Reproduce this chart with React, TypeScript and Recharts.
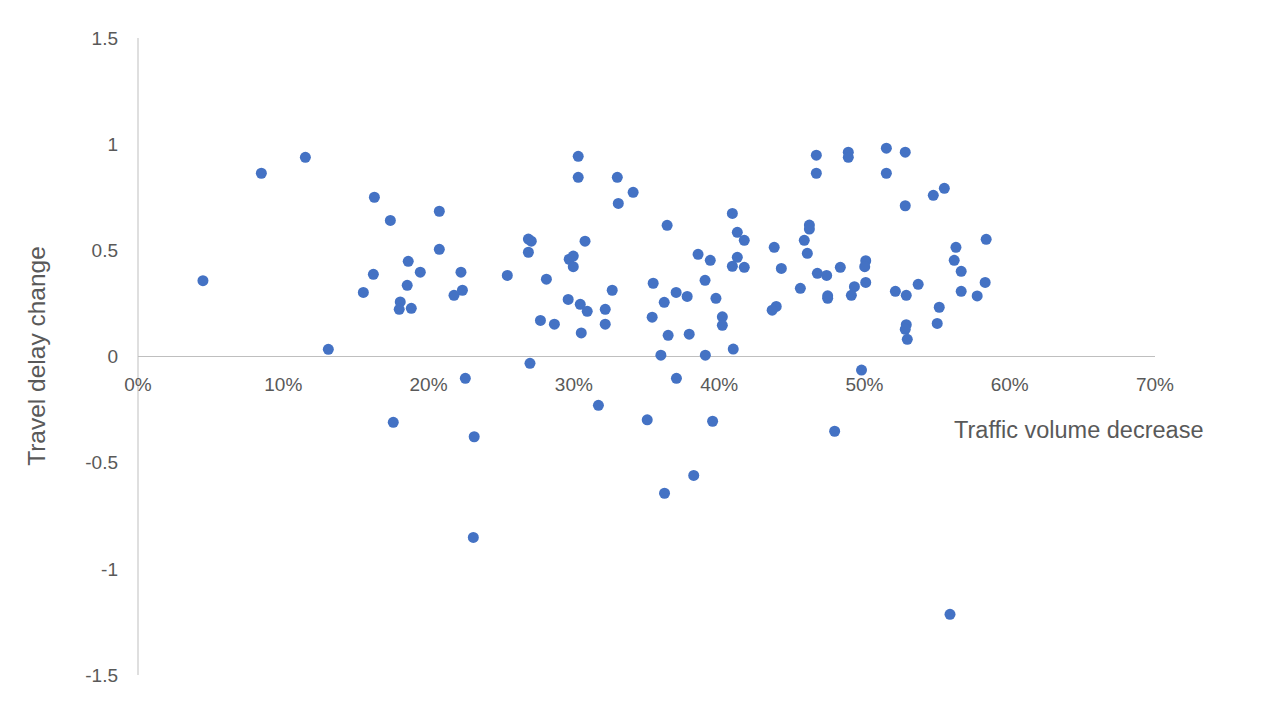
import React from "react";
import {
  ScatterChart,
  Scatter,
  XAxis,
  YAxis,
  ReferenceLine,
  ReferenceDot,
} from "recharts";

const xValues: number[] = [
  0.0447, 0.0849, 0.1152, 0.131, 0.1627, 0.1737, 0.2074, 0.2074, 0.186, 0.1943,
  0.162, 0.1853, 0.1551, 0.1805, 0.1798, 0.1881, 0.2223, 0.2233, 0.2175, 0.2542,
  0.2687, 0.2707, 0.2687, 0.2811, 0.277, 0.2866, 0.2698, 0.303, 0.303, 0.3299,
  0.3306, 0.3408, 0.3077, 0.2968, 0.2996, 0.2996, 0.2961, 0.3044, 0.3092, 0.3051,
  0.3264, 0.3216, 0.3216, 0.3642, 0.3546, 0.3622, 0.3704, 0.378, 0.3539, 0.3649,
  0.3794, 0.3599, 0.3855, 0.3939, 0.3903, 0.3978, 0.4022, 0.4022, 0.3905, 0.4097,
  0.4091, 0.4125, 0.4173, 0.4125, 0.4091, 0.4173, 0.4379, 0.4428, 0.4393, 0.4365,
  0.4669, 0.4669, 0.4889, 0.4889, 0.5151, 0.5151, 0.5281, 0.5281, 0.5474, 0.555,
  0.4621, 0.4621, 0.4586, 0.4607, 0.4676, 0.474, 0.4559, 0.4747, 0.4747, 0.4834,
  0.5009, 0.5002, 0.5009, 0.4931, 0.491, 0.5213, 0.5288, 0.537, 0.5288, 0.5281,
  0.5295, 0.5515, 0.5501, 0.563, 0.5618, 0.5666, 0.5666, 0.5776, 0.5838, 0.5831,
  0.498, 0.2253, 0.1757, 0.2314, 0.2308, 0.3169, 0.3706, 0.3505, 0.3955, 0.4795,
  0.3825, 0.3624, 0.5589,
];

const yValues: number[] = [
  0.357, 0.863, 0.938, 0.034, 0.75, 0.641, 0.684, 0.505, 0.448, 0.397,
  0.387, 0.335, 0.302, 0.257, 0.222, 0.227, 0.397, 0.312, 0.288, 0.382,
  0.553, 0.543, 0.491, 0.364, 0.17, 0.152, -0.032, 0.943, 0.844, 0.844,
  0.721, 0.773, 0.543, 0.458, 0.473, 0.423, 0.269, 0.246, 0.213, 0.111,
  0.312, 0.222, 0.152, 0.618, 0.345, 0.255, 0.302, 0.283, 0.185, 0.1,
  0.105, 0.006, 0.481, 0.453, 0.359, 0.274, 0.187, 0.147, 0.006, 0.035,
  0.674, 0.585, 0.547, 0.467, 0.425, 0.42, 0.514, 0.415, 0.236, 0.218,
  0.948, 0.863, 0.962, 0.938, 0.981, 0.863, 0.962, 0.71, 0.759, 0.792,
  0.619, 0.6, 0.547, 0.486, 0.392, 0.382, 0.321, 0.286, 0.274, 0.42,
  0.451, 0.423, 0.349, 0.329, 0.288, 0.307, 0.288, 0.34, 0.15, 0.128,
  0.081, 0.232, 0.156, 0.514, 0.453, 0.401, 0.307, 0.285, 0.552, 0.349,
  -0.064, -0.103, -0.31, -0.378, -0.852, -0.23, -0.103, -0.298, -0.305, -0.352,
  -0.56, -0.644, -1.214,
];

const xTicks: number[] = [0, 0.1, 0.2, 0.3, 0.4, 0.5, 0.6, 0.7];
const xTickLabels: string[] = ["0%", "10%", "20%", "30%", "40%", "50%", "60%", "70%"];
const yTicks: number[] = [-1.5, -1, -0.5, 0, 0.5, 1, 1.5];

const xTitle = "Traffic volume decrease";
const yTitle = "Travel delay change";

const data = xValues.map((x, i) => ({ x, y: yValues[i] }));

const FONT = "'Liberation Sans', Arial, sans-serif";
const TEXT = "#595959";
const AXIS = "#BFBFBF";
const DOT = "#4472C4";

const Dot = (props: any) => {
  const { cx, cy } = props;
  if (cx == null || cy == null) return null;
  return <circle cx={cx} cy={cy} r={5.5} fill={DOT} />;
};

export default function App() {
  return (
    <div
      style={{
        position: "absolute",
        left: 0,
        top: 0,
        width: 1280,
        height: 720,
        background: "#fff",
        fontFamily: FONT,
      }}
    >
      <ScatterChart
        width={1280}
        height={720}
        margin={{ top: 38, right: 125, bottom: 45, left: 78 }}
      >
        <XAxis
          type="number"
          dataKey="x"
          domain={[0, 0.7]}
          ticks={xTicks}
          hide
        />
        <YAxis
          type="number"
          dataKey="y"
          domain={[-1.5, 1.5]}
          ticks={yTicks}
          width={60}
          axisLine={{ stroke: AXIS, strokeWidth: 1 }}
          tickLine={false}
          tickMargin={14}
          tick={{ fill: TEXT, fontSize: 19, fontFamily: FONT }}
          interval={0}
        />
        <ReferenceLine y={0} stroke={AXIS} strokeWidth={1} />
        {xTicks.map((t, i) => (
          <ReferenceDot
            key={t}
            x={t}
            y={0}
            r={0}
            fill="none"
            stroke="none"
            ifOverflow="visible"
            label={{
              value: xTickLabels[i],
              position: "bottom",
              offset: 21,
              fill: TEXT,
              fontSize: 19,
              fontFamily: FONT,
            }}
          />
        ))}
        <Scatter
          data={data}
          fill={DOT}
          shape={<Dot />}
          isAnimationActive={false}
        />
      </ScatterChart>
      <div
        style={{
          position: "absolute",
          left: 954,
          top: 416,
          fontSize: 23.5,
          color: TEXT,
          fontFamily: FONT,
          whiteSpace: "nowrap",
          lineHeight: "28px",
        }}
      >
        {xTitle}
      </div>
      <div
        style={{
          position: "absolute",
          left: 37,
          top: 356,
          fontSize: 24.5,
          color: TEXT,
          fontFamily: FONT,
          whiteSpace: "nowrap",
          lineHeight: "28px",
          transform: "translate(-50%, -50%) rotate(-90deg)",
        }}
      >
        {yTitle}
      </div>
    </div>
  );
}
